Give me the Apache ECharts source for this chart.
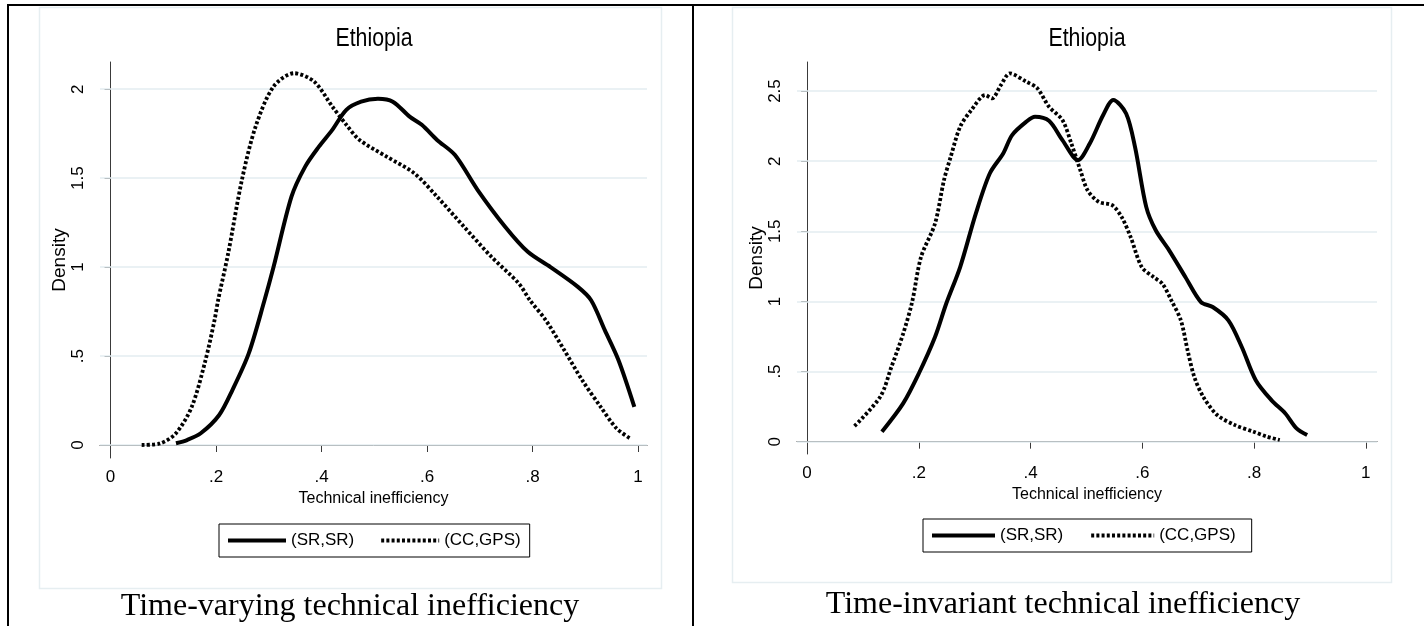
<!DOCTYPE html>
<html>
<head>
<meta charset="utf-8">
<title>Ethiopia - technical inefficiency densities</title>
<script src="https://cdn.jsdelivr.net/npm/echarts@6/dist/echarts.min.js"></script>
<style>
  html, body { margin: 0; padding: 0; background: #fff; }
  #chart { width: 1424px; height: 626px; }
</style>
</head>
<body>
<div id="chart"></div>
<script>
// kernel density curves, [inefficiency, density]
const tvSR = [[0.124,0.01],[0.145,0.028],[0.171,0.066],[0.206,0.169],[0.231,0.309],[0.262,0.515],[0.292,0.815],[0.309,1.0],[0.343,1.396],[0.369,1.565],[0.395,1.677],[0.42,1.77],[0.447,1.884],[0.475,1.93],[0.507,1.946],[0.535,1.93],[0.567,1.846],[0.59,1.8],[0.619,1.715],[0.653,1.63],[0.696,1.433],[0.748,1.227],[0.791,1.086],[0.834,1.0],[0.886,0.889],[0.911,0.814],[0.937,0.646],[0.963,0.477],[0.993,0.215]];
const tvCC = [[0.059,0.0],[0.094,0.009],[0.124,0.066],[0.154,0.215],[0.18,0.477],[0.197,0.7],[0.204,0.815],[0.223,1.077],[0.249,1.49],[0.275,1.79],[0.309,2.015],[0.348,2.09],[0.386,2.043],[0.421,1.9],[0.447,1.8],[0.472,1.715],[0.524,1.62],[0.576,1.527],[0.619,1.396],[0.67,1.227],[0.722,1.058],[0.774,0.908],[0.795,0.814],[0.825,0.702],[0.86,0.534],[0.894,0.365],[0.929,0.215],[0.959,0.094],[0.985,0.037]];
const tiSR = [[0.134,0.071],[0.172,0.273],[0.2,0.486],[0.229,0.746],[0.249,0.983],[0.274,1.245],[0.302,1.626],[0.327,1.912],[0.351,2.055],[0.367,2.186],[0.392,2.28],[0.408,2.317],[0.433,2.288],[0.457,2.15],[0.485,2.007],[0.506,2.126],[0.53,2.329],[0.548,2.436],[0.571,2.34],[0.587,2.1],[0.607,1.674],[0.624,1.507],[0.648,1.364],[0.677,1.174],[0.705,0.995],[0.726,0.96],[0.754,0.865],[0.778,0.675],[0.803,0.438],[0.831,0.296],[0.856,0.201],[0.876,0.095],[0.895,0.047]];
const tiCC = [[0.085,0.111],[0.131,0.32],[0.151,0.533],[0.172,0.77],[0.188,0.995],[0.204,1.317],[0.229,1.555],[0.245,1.864],[0.257,2.03],[0.274,2.245],[0.294,2.364],[0.319,2.471],[0.331,2.448],[0.347,2.543],[0.363,2.626],[0.392,2.567],[0.412,2.52],[0.433,2.388],[0.457,2.293],[0.473,2.126],[0.489,1.936],[0.502,1.793],[0.522,1.71],[0.546,1.686],[0.563,1.602],[0.579,1.46],[0.599,1.245],[0.62,1.174],[0.636,1.126],[0.652,1.007],[0.669,0.865],[0.681,0.652],[0.693,0.462],[0.709,0.32],[0.734,0.19],[0.766,0.118],[0.799,0.071],[0.823,0.036],[0.846,0.012]];

const seriesNames = ['(SR,SR)', '(CC,GPS)'];
const xTicks = [0, 0.2, 0.4, 0.6, 0.8, 1];
const xTickLabels = ['0', '.2', '.4', '.6', '.8', '1'];
const tvYTicks = [0, 0.5, 1, 1.5, 2];
const tvYTickLabels = ['0', '.5', '1', '1.5', '2'];
const tiYTicks = [0, 0.5, 1, 1.5, 2, 2.5];
const tiYTickLabels = ['0', '.5', '1', '1.5', '2', '2.5'];
const panelTitle = 'Ethiopia';
const xTitle = 'Technical inefficiency';
const yTitle = 'Density';
const captions = ['Time-varying technical inefficiency', 'Time-invariant technical inefficiency'];

const SANS = "'Liberation Sans', Arial, sans-serif";
const SERIF = "'Liberation Serif', 'Times New Roman', serif";
const AXIS_COLOR = '#3a3a3a';

function labelFor(ticks, labels) {
  return v => {
    const i = ticks.findIndex(t => Math.abs(t - v) < 1e-9);
    return i < 0 ? '' : labels[i];
  };
}

function xAxisFor(gridIndex, min, max, nameGap) {
  return {
    type: 'value', gridIndex, min, max,
    name: xTitle, nameLocation: 'middle', nameGap,
    nameTextStyle: { fontFamily: SANS, fontSize: 16, color: '#000' },
    axisLine: { show: true, lineStyle: { color: AXIS_COLOR, width: 1 } },
    axisTick: { show: true, length: 7, customValues: xTicks, lineStyle: { color: AXIS_COLOR } },
    axisLabel: { customValues: xTicks, formatter: labelFor(xTicks, xTickLabels), margin: 11,
      fontFamily: SANS, fontSize: 17, color: '#000' },
    splitLine: { show: false }
  };
}

function yAxisFor(gridIndex, min, max, ticks, labels, nameGap) {
  return {
    type: 'value', gridIndex, min, max,
    name: yTitle, nameLocation: 'middle', nameGap,
    nameTextStyle: { fontFamily: SANS, fontSize: 19, color: '#000' },
    axisLine: { show: true, lineStyle: { color: AXIS_COLOR, width: 1 } },
    axisTick: { show: true, length: 6, customValues: ticks, lineStyle: { color: AXIS_COLOR } },
    axisLabel: { customValues: ticks, formatter: labelFor(ticks, labels), rotate: 90, margin: 13,
      fontFamily: SANS, fontSize: 17, color: '#000' },
    splitLine: { show: false }
  };
}

// horizontal Stata grid lines at the y ticks
function gridLines(ticks) {
  return {
    silent: true, z: 1, animation: false,
    symbol: ['none', 'none'],
    label: { show: false },
    emphasis: { disabled: true },
    lineStyle: { color: '#e3edf1', width: 1.5, type: 'solid' },
    data: ticks.map(v => ({ yAxis: v }))
  };
}

function curves(idx, solid, dotted, ticks) {
  return [
    {
      name: seriesNames[0], type: 'line', xAxisIndex: idx, yAxisIndex: idx,
      data: solid, symbol: 'none', smooth: 0.3, z: 3,
      lineStyle: { color: '#000', width: 4 },
      itemStyle: { color: '#000' },
      markLine: gridLines(ticks)
    },
    {
      name: seriesNames[1], type: 'line', xAxisIndex: idx, yAxisIndex: idx,
      data: dotted, symbol: 'none', smooth: 0.3, z: 2,
      lineStyle: { color: '#000', width: 3.8, type: [3, 2.2], cap: 'butt' },
      itemStyle: { color: '#000' }
    }
  ];
}

function legendFor(left, top, itemWidth, itemGap, padding) {
  return {
    left, top, orient: 'horizontal', selectedMode: false,
    itemWidth, itemHeight: 14, itemGap, padding,
    borderColor: '#000', borderWidth: 1, backgroundColor: '#fff',
    textStyle: { fontFamily: SANS, fontSize: 17, color: '#000' },
    lineStyle: { width: 'inherit' },
    itemStyle: { opacity: 0 },
    data: seriesNames
  };
}

const frame = [
  { type: 'line', shape: { x1: 7, y1: 5, x2: 1424, y2: 5 }, style: { stroke: '#000', lineWidth: 2 } },
  { type: 'line', shape: { x1: 8, y1: 4, x2: 8, y2: 626 }, style: { stroke: '#000', lineWidth: 2 } },
  { type: 'line', shape: { x1: 693, y1: 4, x2: 693, y2: 626 }, style: { stroke: '#000', lineWidth: 2 } },
  { type: 'rect', shape: { x: 39.5, y: 7.5, width: 622, height: 581 }, style: { fill: '#fff', stroke: '#e6eef1', lineWidth: 1.5 }, z: -10 },
  { type: 'rect', shape: { x: 732.5, y: 7.5, width: 659, height: 575 }, style: { fill: '#fff', stroke: '#e6eef1', lineWidth: 1.5 }, z: -10 },
  { type: 'text', x: 374, y: 39, scaleX: 0.82, style: { text: panelTitle, fontFamily: SANS, fontSize: 26, fill: '#000', align: 'center', verticalAlign: 'middle' } },
  { type: 'text', x: 1087, y: 39, scaleX: 0.82, style: { text: panelTitle, fontFamily: SANS, fontSize: 26, fill: '#000', align: 'center', verticalAlign: 'middle' } },
  { type: 'text', x: 350, y: 607, style: { text: captions[0], fontFamily: SERIF, fontSize: 32, fill: '#000', align: 'center', verticalAlign: 'middle' } },
  { type: 'text', x: 1063, y: 605, style: { text: captions[1], fontFamily: SERIF, fontSize: 32, fill: '#000', align: 'center', verticalAlign: 'middle' } }
];

const chart = echarts.init(document.getElementById('chart'), null, { renderer: 'canvas' });
chart.setOption({
  animation: false,
  backgroundColor: '#fff',
  tooltip: { show: false },
  graphic: frame,
  grid: [
    { left: 100, top: 62, width: 547, height: 396, outerBoundsMode: 'none' },
    { left: 797, top: 62, width: 580, height: 392, outerBoundsMode: 'none' }
  ],
  xAxis: [
    xAxisFor(0, -0.02, 1.017, 32),
    xAxisFor(1, -0.018, 1.02, 32)
  ],
  yAxis: [
    yAxisFor(0, -0.073, 2.153, tvYTicks, tvYTickLabels, 29),
    yAxisFor(1, -0.088, 2.707, tiYTicks, tiYTickLabels, 30)
  ],
  legend: [
    legendFor(219, 524, 58, 25, [8, 9, 8, 7]),
    legendFor(923, 519, 63, 26, [8, 16, 8, 7])
  ],
  series: [].concat(curves(0, tvSR, tvCC, tvYTicks), curves(1, tiSR, tiCC, tiYTicks))
});
</script>
</body>
</html>
